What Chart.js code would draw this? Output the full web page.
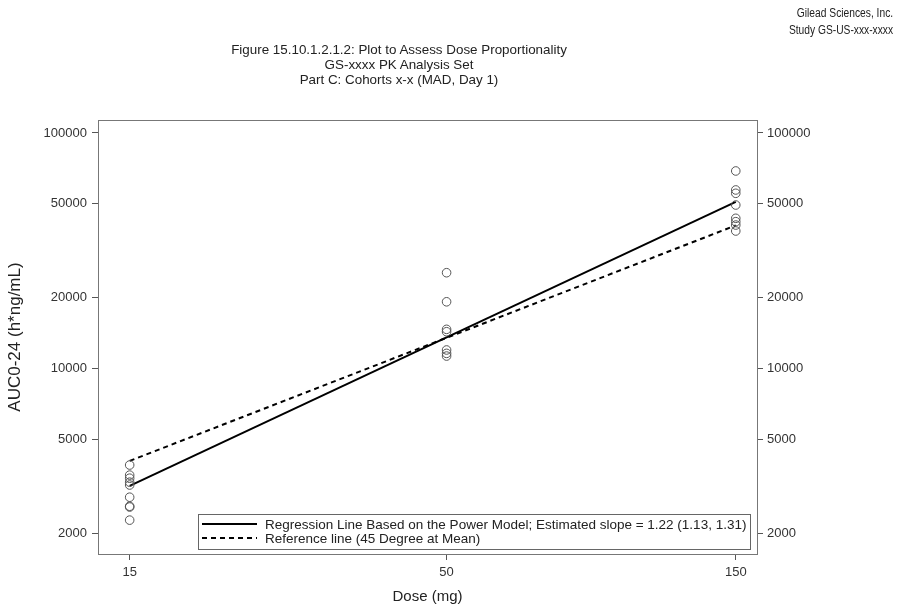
<!DOCTYPE html>
<html>
<head>
<meta charset="utf-8">
<script src="https://cdn.jsdelivr.net/npm/chart.js@4.4.1/dist/chart.umd.min.js"></script>
<style>
  body { margin: 0; background: #fff; font-family: "Liberation Sans", Arial, sans-serif; }
  #wrap { position: relative; width: 909px; height: 610px; }
  #c { position: absolute; left: 0; top: 0; }
  .hdr { position: absolute; color: #222; }
</style>
</head>
<body>
<div id="wrap">
  <canvas id="c" width="909" height="610"></canvas>
  <div class="hdr" style="right:16px; top:5px; text-align:right; line-height:17px; font-size:12.5px; transform:scaleX(0.82); transform-origin:right top;">Gilead Sciences, Inc.<br>Study GS-US-xxx-xxxx</div>
  <div class="hdr" style="left:149px; width:500px; top:42px; text-align:center; line-height:15px; font-size:13.4px;">Figure 15.10.1.2.1.2: Plot to Assess Dose Proportionality<br>GS-xxxx PK Analysis Set<br>Part C: Cohorts x-x (MAD, Day 1)</div>
</div>
<script>
const doses = [15, 50, 150];
// individual AUC0-24 values per dose level
const auc15 = [3890, 3525, 3420, 3290, 3200, 2840, 2600, 2580, 2270];
const auc50 = [25500, 19190, 14660, 14320, 11980, 11590, 11290];
const auc150 = [68950, 57270, 55430, 49430, 43410, 42000, 40640, 38340];
// fitted lines at the lowest and highest dose
const lineDoses = [15, 150];
const regressionLine = [3170, 51000];
const referenceLine = [4050, 40500];
const yTicks = [2000, 5000, 10000, 20000, 50000, 100000];
const xTicks = [15, 50, 150];
const legendLabels = [
  "Regression Line Based on the Power Model; Estimated slope = 1.22 (1.13, 1.31)",
  "Reference line (45 Degree at Mean)"
];

const points = [auc15, auc50, auc150].flatMap((vals, i) => vals.map(v => ({ x: doses[i], y: v })));

const frame = {
  id: "frame",
  afterDraw(chart) {
    const { ctx, chartArea: a } = chart;
    ctx.save();
    ctx.strokeStyle = "#777";
    ctx.lineWidth = 1;
    ctx.strokeRect(a.left + 0.5, a.top + 0.5, a.right - a.left, a.bottom - a.top);

    // legend box inside the plot, bottom right
    ctx.font = "13.5px 'Liberation Sans', Arial, sans-serif";
    const w = Math.max(...legendLabels.map(t => ctx.measureText(t).width));
    const right = a.right - 7, bottom = a.bottom - 5;
    const left = Math.round(right - w - 71), top = bottom - 35;
    ctx.strokeStyle = "#666";
    ctx.strokeRect(left + 0.5, top + 0.5, right - left, bottom - top);
    ctx.fillStyle = "#222";
    ctx.textBaseline = "middle";
    const rows = [top + 10, top + 24];
    [1, 2].forEach((di, i) => {
      const ds = chart.data.datasets[di];
      ctx.beginPath();
      ctx.strokeStyle = ds.borderColor;
      ctx.lineWidth = ds.borderWidth;
      ctx.setLineDash(ds.borderDash || []);
      ctx.moveTo(left + 4, rows[i]);
      ctx.lineTo(left + 59, rows[i]);
      ctx.stroke();
      ctx.setLineDash([]);
      ctx.fillText(ds.label, left + 67, rows[i] + 1);
    });
    ctx.restore();
  }
};

const tickFont = { family: "'Liberation Sans', Arial, sans-serif", size: 13 };
const tickGrid = { display: true, drawOnChartArea: false, drawTicks: true, tickLength: 6, color: "#555" };

new Chart(document.getElementById("c"), {
  type: "scatter",
  data: {
    datasets: [
      {
        label: "Observed",
        data: points,
        pointStyle: "circle",
        pointRadius: 4.3,
        pointBorderWidth: 1,
        pointBorderColor: "#555",
        pointBackgroundColor: "rgba(0,0,0,0)"
      },
      {
        label: legendLabels[0],
        type: "line",
        data: lineDoses.map((d, i) => ({ x: d, y: regressionLine[i] })),
        borderColor: "#000",
        borderWidth: 2,
        pointRadius: 0
      },
      {
        label: legendLabels[1],
        type: "line",
        data: lineDoses.map((d, i) => ({ x: d, y: referenceLine[i] })),
        borderColor: "#000",
        borderWidth: 2,
        borderDash: [5, 4],
        pointRadius: 0
      }
    ]
  },
  options: {
    responsive: false,
    animation: false,
    layout: { padding: { top: 120, left: 0, right: 0, bottom: 0 } },
    plugins: { legend: { display: false }, tooltip: { enabled: false } },
    scales: {
      x: {
        type: "logarithmic",
        min: 13.3,
        max: 162.6,
        afterBuildTicks: axis => (axis.ticks = xTicks.map(value => ({ value }))),
        afterFit: axis => { axis.height = 56; },
        ticks: { color: "#333", font: tickFont, padding: 5, autoSkip: false, maxRotation: 0, callback: v => String(v) },
        grid: tickGrid,
        border: { display: false },
        title: { display: true, text: "Dose (mg)", color: "#222", font: { family: "'Liberation Sans', Arial, sans-serif", size: 15 }, padding: { top: 4, bottom: 4 } }
      },
      y: {
        type: "logarithmic",
        position: "left",
        min: 1630,
        max: 113500,
        afterBuildTicks: axis => (axis.ticks = yTicks.map(value => ({ value }))),
        afterFit: axis => { axis.width = 98; },
        ticks: { color: "#333", font: tickFont, padding: 5, autoSkip: false, callback: v => String(v) },
        grid: tickGrid,
        border: { display: false },
        title: { display: true, text: "AUC0-24 (h*ng/mL)", color: "#222", font: { family: "'Liberation Sans', Arial, sans-serif", size: 17 }, padding: { top: 5, bottom: 4 } }
      },
      y2: {
        type: "logarithmic",
        position: "right",
        min: 1630,
        max: 113500,
        afterBuildTicks: axis => (axis.ticks = yTicks.map(value => ({ value }))),
        afterFit: axis => { axis.width = 152; },
        ticks: { color: "#333", font: tickFont, padding: 4, autoSkip: false, callback: v => String(v) },
        grid: tickGrid,
        border: { display: false }
      }
    }
  },
  plugins: [frame]
});
</script>
</body>
</html>
